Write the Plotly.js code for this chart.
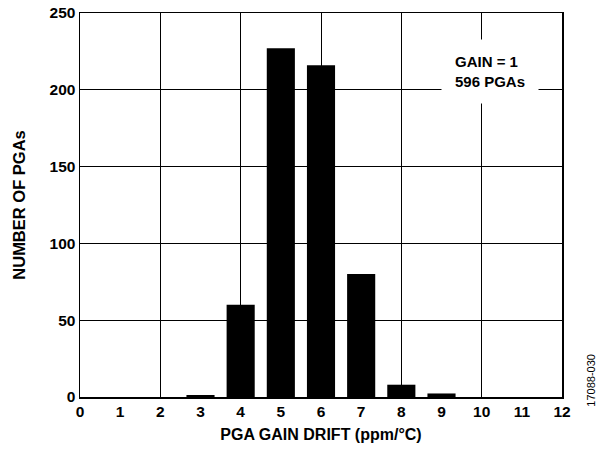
<!DOCTYPE html>
<html><head><meta charset="utf-8">
<script src="https://cdn.plot.ly/plotly-3.0.1.min.js"></script>
<style>body{margin:0;}#c{width:601px;height:451px;}</style>
</head><body><div id="c"></div>
<script>
const driftBins = [3, 4, 5, 6, 7, 8, 9];
const pgaCounts = [1.3, 60, 227, 216, 80, 8, 2.3];
const xTickVals = [0,1,2,3,4,5,6,7,8,9,10,11,12];
const yTickVals = [0,50,100,150,200,250];
const noteText = 'GAIN = 1<br>596 PGAs';
const xTitle = 'PGA GAIN DRIFT (ppm/°C)';
const yTitle = 'NUMBER OF PGAs';
const figId = '17088-030';

const fam = 'Liberation Sans, Arial, sans-serif';
const bold = s => ({family: fam, size: s, weight: 'bold', color: '#000'});
const data = [{
  type: 'bar', x: driftBins, y: pgaCounts, width: 0.7,
  marker: {color: '#000', line: {width: 0}}, hoverinfo: 'none'
}, {
  type: 'scatter', x: [0, 12], y: [0, 0], xaxis: 'x2', mode: 'none', hoverinfo: 'none', showlegend: false
}];
const layout = {
  width: 601, height: 451,
  margin: {l: 80, r: 39, t: 13, b: 54},
  paper_bgcolor: '#fff', plot_bgcolor: '#fff',
  showlegend: false,
  font: {family: fam, size: 15, color: '#000'},
  xaxis: {
    range: [0, 12], tickvals: xTickVals, ticktext: xTickVals.map(String),
    showgrid: false, zeroline: false, showline: true, linecolor: '#000', linewidth: 1.5,
    mirror: true, ticks: '', ticklen: 0,
    tickfont: bold(15.5),
    title: {text: xTitle, font: bold(16), standoff: 9}
  },
  xaxis2: {
    range: [0, 12], overlaying: 'x', dtick: 2, tick0: 0, showticklabels: false,
    showgrid: true, gridcolor: '#000', gridwidth: 1, zeroline: false, showline: false, ticks: ''
  },
  yaxis: {
    range: [0, 250], tickvals: yTickVals, showgrid: true, gridcolor: '#000', gridwidth: 1,
    zeroline: false, showline: true, linecolor: '#000', linewidth: 1.5, mirror: true,
    ticks: '', ticklen: 0,
    tickfont: bold(15.5),
    title: {text: yTitle, font: bold(16.5), standoff: 20}
  },
  annotations: [{
    xref: 'x', yref: 'y', x: 10.2, y: 212, text: noteText, showarrow: false,
    align: 'left', bgcolor: '#fff', borderpad: 13, xanchor: 'center', yanchor: 'middle',
    font: bold(15)
  }, {
    xref: 'paper', yref: 'paper', x: 1.06, y: 0.045, xanchor: 'center', yanchor: 'middle',
    text: figId, textangle: -90, showarrow: false,
    font: {family: fam, size: 11, weight: 'normal', color: '#000'}
  }]
};
Plotly.newPlot('c', data, layout, {staticPlot: true});
</script>
</body></html>
